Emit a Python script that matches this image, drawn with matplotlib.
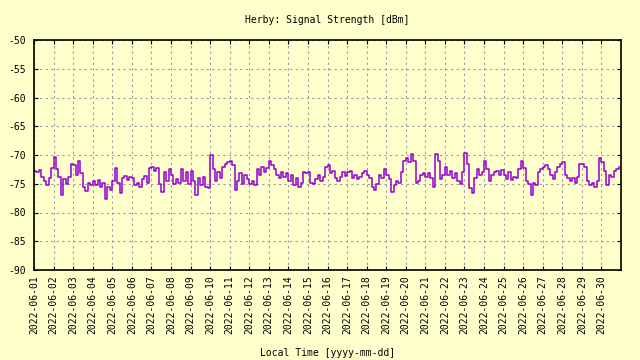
import matplotlib
matplotlib.use("Agg")
import matplotlib.pyplot as plt
import matplotlib.dates as mdates
import numpy as np
import pandas as pd

# signal strength, 8 readings per day (every 3 h), 2022-06-01 .. 2022-06-30
signal = [
    -72.8, -73.0, -72.6, -73.8, -74.5, -75.3, -74.0, -72.2,
    -70.4, -72.5, -73.8, -77.0, -74.2, -75.0, -73.8, -71.5,
    -71.8, -73.5, -71.0, -73.2, -75.5, -76.3, -74.8, -75.2,
    -74.6, -75.2, -74.3, -75.6, -74.8, -77.6, -75.5, -76.0,
    -74.5, -72.3, -74.8, -76.6, -74.0, -73.7, -74.3, -73.9,
    -74.0, -75.3, -74.8, -75.5, -74.2, -73.6, -74.8, -72.2,
    -72.0, -72.8, -72.3, -75.0, -76.5, -73.0, -74.6, -72.5,
    -73.5, -75.0, -74.2, -74.8, -72.5, -74.5, -73.0, -75.0,
    -72.8, -74.5, -77.0, -74.0, -75.2, -73.8, -75.5, -75.8,
    -70.0, -72.5, -74.5, -73.0, -74.0, -72.0, -71.6, -71.3,
    -71.0, -71.8, -76.0, -74.5, -73.2, -75.0, -73.5, -74.2,
    -75.0, -74.5, -75.2, -72.5, -73.5, -72.0, -73.0, -72.2,
    -71.0, -71.8, -72.5, -73.5, -74.0, -73.0, -73.8, -73.2,
    -74.5, -73.5, -75.2, -74.0, -75.5, -74.8, -73.0, -73.2,
    -73.0, -74.8, -75.0, -74.2, -73.5, -74.5, -73.8, -72.0,
    -71.7, -73.2, -72.8, -74.0, -74.5, -73.8, -73.0, -73.6,
    -73.0, -72.8, -74.0, -73.5, -74.2, -73.8, -73.2, -72.8,
    -73.5, -74.0, -75.5, -76.0, -75.0, -73.5, -74.0, -72.5,
    -73.5, -74.2, -76.5, -75.2, -74.5, -74.8, -73.0, -71.0,
    -70.5, -71.2, -69.8, -71.0, -74.8, -74.5, -73.5, -73.2,
    -73.8, -73.2, -74.0, -75.5, -69.8, -71.0, -74.2, -73.5,
    -72.0, -73.5, -72.8, -74.0, -73.2, -74.5, -75.0, -73.0,
    -69.7, -71.5, -75.8, -76.6, -74.0, -72.5, -73.5, -73.0,
    -71.1, -72.5, -74.5, -73.5, -73.0, -72.8, -73.5, -72.6,
    -73.5, -74.2, -73.0, -74.3, -73.8, -74.0, -72.5, -71.0,
    -72.3, -74.5, -75.0, -77.0, -74.8, -75.2, -73.0, -72.5,
    -72.0, -71.8, -72.5, -73.5, -74.2, -73.0, -72.0, -71.5,
    -71.2, -73.5, -74.0, -74.6, -74.0, -74.8, -73.8, -71.5,
    -71.6, -72.0, -74.5, -75.2, -74.8, -75.5, -74.5, -70.6,
    -71.2, -72.8, -75.2, -73.5, -73.8, -72.8, -72.5, -72.0,
]
times = pd.date_range("2022-06-01", periods=len(signal), freq="3h")
day_ticks = pd.date_range("2022-06-01", "2022-06-30", freq="D")
y_ticks = [-90, -85, -80, -75, -70, -65, -60, -55, -50]

bg = "#ffffcc"
plt.rcParams["font.family"] = ["DejaVu Sans Mono"]
plt.rcParams["axes.unicode_minus"] = False

fig = plt.figure(figsize=(6.4, 3.6), dpi=100, facecolor=bg)
ax = fig.add_axes([34 / 640, 1 - 270 / 360, 587 / 640, 230 / 360], facecolor=bg)

ax.plot(times, signal, color="#9400d3", linewidth=1.1, drawstyle="steps-post")

ax.set_xlim(pd.Timestamp("2022-06-01"), pd.Timestamp("2022-07-01"))
ax.set_ylim(-90, -50)
ax.set_yticks(y_ticks)
ax.set_xticks(day_ticks)
ax.xaxis.set_major_formatter(mdates.DateFormatter("%Y-%m-%d"))
ax.tick_params(axis="x", rotation=90, labelsize=7, direction="in", top=True, length=3, pad=4)
ax.tick_params(axis="y", labelsize=7, direction="in", right=True, length=3, pad=6)
ax.grid(True, color="#9a9aa6", linestyle=(0, (2, 3)), linewidth=0.8)
for s in ax.spines.values():
    s.set_linewidth(1.2)

ax.set_title("Herby: Signal Strength [dBm]", fontsize=7, pad=12)
ax.set_xlabel("Local Time [yyyy-mm-dd]", fontsize=7)
ax.xaxis.set_label_coords(0.5, -0.34)

fig.savefig("out.png", dpi=100, facecolor=bg)
